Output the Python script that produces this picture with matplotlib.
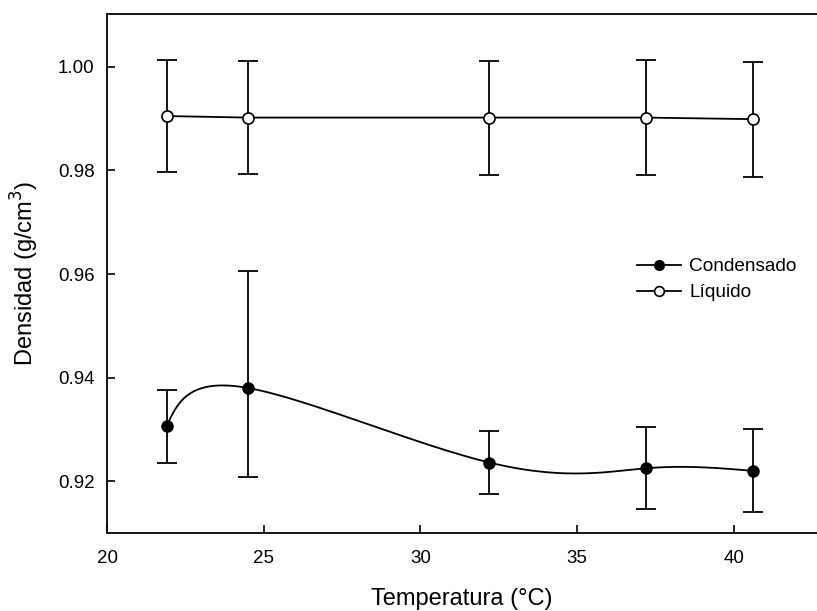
import numpy as np
import matplotlib
matplotlib.use("Agg")
import matplotlib.pyplot as plt

# ---- data ----
temperatura = [21.9, 24.5, 32.2, 37.2, 40.6]
condensado = [0.9306, 0.9380, 0.9236, 0.9225, 0.9220]
condensado_err_lo = [0.0070, 0.0171, 0.0061, 0.0079, 0.0080]
condensado_err_hi = [0.0070, 0.0225, 0.0061, 0.0079, 0.0080]
liquido = [0.9905, 0.9902, 0.9902, 0.9902, 0.9899]
liquido_err = [0.0109, 0.0109, 0.0110, 0.0111, 0.0111]
x_ticks = [20, 25, 30, 35, 40]
y_ticks = [0.92, 0.94, 0.96, 0.98, 1.00]
y_ticklabels = ["0.92", "0.94", "0.96", "0.98", "1.00"]
serie_names = ["Condensado", "Líquido"]


def natural_spline(t, y, ts):
    t = np.asarray(t, float)
    y = np.asarray(y, float)
    n = len(t)
    h = np.diff(t)
    A = np.zeros((n, n))
    b = np.zeros(n)
    A[0, 0] = 1
    A[-1, -1] = 1
    for i in range(1, n - 1):
        A[i, i - 1] = h[i - 1]
        A[i, i] = 2 * (h[i - 1] + h[i])
        A[i, i + 1] = h[i]
        b[i] = 3 * ((y[i + 1] - y[i]) / h[i] - (y[i] - y[i - 1]) / h[i - 1])
    c = np.linalg.solve(A, b)
    bb = (y[1:] - y[:-1]) / h - h * (2 * c[:-1] + c[1:]) / 3
    d = (c[1:] - c[:-1]) / (3 * h)
    idx = np.clip(np.searchsorted(t, ts) - 1, 0, n - 2)
    dx = ts - t[idx]
    return y[idx] + bb[idx] * dx + c[idx] * dx ** 2 + d[idx] * dx ** 3


def parametric_spline(x, y, num=800):
    """Parametric cubic spline (uniform parameter) through the points."""
    t = np.arange(len(x), dtype=float)
    ts = np.linspace(0, t[-1], num)
    return natural_spline(t, x, ts), natural_spline(t, y, ts)


plt.rcParams["font.family"] = ["Liberation Sans", "DejaVu Sans"]

fig = plt.figure(figsize=(8.17, 6.11), dpi=100)
ax = fig.add_axes([107 / 817, 1 - 533 / 611, 1 - 107 / 817, (533 - 14) / 611])
ax.set_xlim(20, 42.65)
ax.set_ylim(0.91, 1.0102)

lw = 1.3
cx, cy = parametric_spline(temperatura, condensado)
ax.plot(cx, cy, color="black", lw=lw, zorder=2)
ax.plot(temperatura, liquido, color="black", lw=lw, zorder=2)

ax.errorbar(temperatura, condensado, yerr=[condensado_err_lo, condensado_err_hi], fmt="none",
            ecolor="black", elinewidth=lw, capsize=7, capthick=lw, zorder=3)
ax.errorbar(temperatura, liquido, yerr=liquido_err, fmt="none", ecolor="black",
            elinewidth=lw, capsize=7, capthick=lw, zorder=3)

ax.plot(temperatura, condensado, "o", color="black", ms=8, zorder=4)
ax.plot(temperatura, liquido, "o", mfc="white", mec="black", mew=1.2, ms=8, zorder=4)

h1, = ax.plot([], [], "-o", color="black", lw=lw, ms=7)
h2, = ax.plot([], [], "-o", color="black", mfc="white", mec="black", mew=1.2, lw=lw, ms=7)
leg = ax.legend([h1, h2], serie_names, loc="upper left", bbox_to_anchor=(0.733, 0.548),
                frameon=False, fontsize=13.7, handlelength=2.3, handletextpad=0.45,
                labelspacing=0.45, borderpad=0)

ax.set_xticks(x_ticks)
ax.set_yticks(y_ticks)
ax.set_yticklabels(y_ticklabels)
ax.tick_params(direction="in", length=6, width=1.2, labelsize=13.5, top=False, right=False)
ax.tick_params(axis="x", pad=12)
ax.tick_params(axis="y", pad=9)
ax.spines["right"].set_visible(False)
for s in ["left", "bottom", "top"]:
    ax.spines[s].set_linewidth(1.3)

ax.set_xlabel("Temperatura (°C)", fontsize=17, labelpad=15)
ax.set_ylabel("Densidad (g/cm$^3$)", fontsize=17, labelpad=12)

fig.savefig("out.png", dpi=100)
